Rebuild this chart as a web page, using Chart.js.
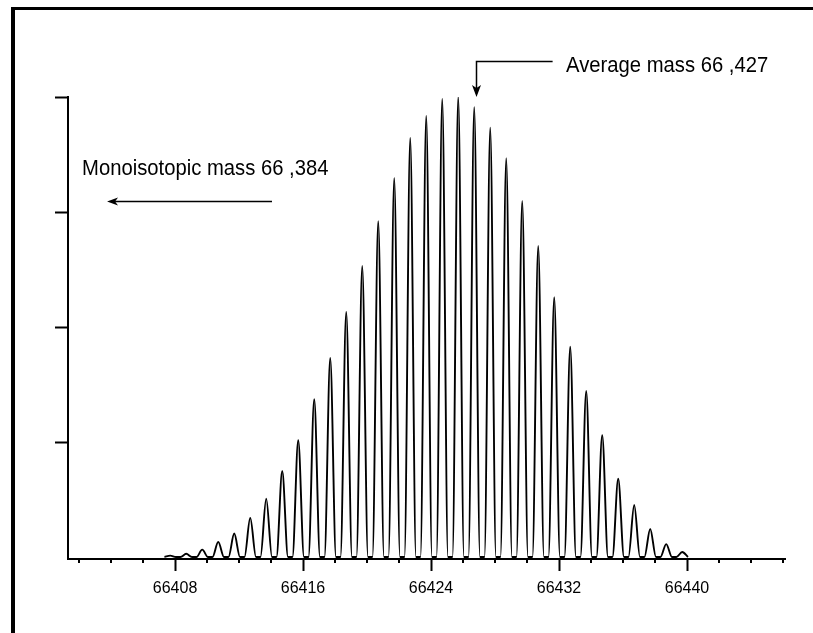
<!DOCTYPE html>
<html>
<head>
<meta charset="utf-8">
<script src="https://cdn.jsdelivr.net/npm/chart.js@4/dist/chart.umd.min.js"></script>
<style>
html,body{margin:0;padding:0;background:#fff;}
#wrap{position:relative;width:813px;height:633px;overflow:hidden;}
canvas{display:block;}
</style>
</head>
<body>
<div id="wrap"><canvas id="c" width="813" height="633"></canvas></div>
<script>
// ---- Data ----
const peakMasses = [66407.7, 66408.7, 66409.7, 66410.7, 66411.7, 66412.7, 66413.7, 66414.7,
  66415.7, 66416.7, 66417.7, 66418.7, 66419.7, 66420.7, 66421.7, 66422.7, 66423.7, 66424.7,
  66425.7, 66426.7, 66427.7, 66428.7, 66429.7, 66430.7, 66431.7, 66432.7, 66433.7, 66434.7,
  66435.7, 66436.7, 66437.7, 66438.7, 66439.7];
const peakIntensities = [0.3, 0.7, 1.6, 3.3, 5.1, 8.5, 12.7, 18.7,
  25.4, 34.3, 43.3, 53.3, 63.3, 73.0, 82.4, 91.1, 95.9, 99.6,
  100, 97.8, 93.3, 86.7, 77.4, 67.6, 56.5, 45.7, 36.1, 26.5,
  17.0, 11.3, 6.1, 2.8, 1.1];
const xMajorTicks = [66408, 66416, 66424, 66432, 66440];
const xMinorTicks = [66402, 66404, 66406, 66410, 66412, 66414, 66418, 66420, 66422,
  66426, 66428, 66430, 66434, 66436, 66438, 66442, 66444, 66446];
const yTicks = [25, 50, 75, 100];
const monoLabel = "Monoisotopic mass 66 ,384";
const avgLabel = "Average mass 66 ,427";
const averageMass = 66426.8;

// ---- Styles / layout ----
const PEAK_HALF_WIDTH = 0.36; // Da, drawing style of each isotopic peak
const TEXT_FONT = "22px 'Liberation Sans', Arial, sans-serif";
const TEXT_SCALE_X = 0.92;

// Each peak drawn as a narrow profile: base - apex - base
const profile = [];
peakMasses.forEach((m, i) => {
  profile.push({x: m - PEAK_HALF_WIDTH, y: 0});
  profile.push({x: m, y: peakIntensities[i]});
  profile.push({x: m + PEAK_HALF_WIDTH, y: 0});
});

function drawText(ctx, text, x, y) {
  ctx.save();
  ctx.font = TEXT_FONT;
  ctx.fillStyle = '#000';
  ctx.textBaseline = 'alphabetic';
  ctx.textAlign = 'left';
  ctx.translate(x, y);
  ctx.scale(TEXT_SCALE_X, 1);
  ctx.fillText(text, 0, 0);
  ctx.restore();
}

const decor = {
  id: 'decor',
  afterDraw(chart) {
    const ctx = chart.ctx;
    const xs = chart.scales.x, ys = chart.scales.y;
    const bottom = chart.chartArea.bottom;
    ctx.save();
    // frame (top and left border)
    ctx.fillStyle = '#000';
    ctx.fillRect(11, 7, 802, 3);
    ctx.fillRect(11, 7, 4, 626);
    // minor x ticks
    ctx.strokeStyle = '#000';
    ctx.lineWidth = 2;
    xMinorTicks.forEach(v => {
      const px = Math.round(xs.getPixelForValue(v));
      ctx.beginPath();
      ctx.moveTo(px, bottom);
      ctx.lineTo(px, bottom + 4);
      ctx.stroke();
    });
    // Monoisotopic annotation
    drawText(ctx, monoLabel, xs.getPixelForValue(66402.19), ys.getPixelForValue(83.0));
    const my = Math.round(ys.getPixelForValue(77.4)) + 0.5;
    const mx0 = xs.getPixelForValue(66414.06), mx1 = xs.getPixelForValue(66403.75);
    ctx.lineWidth = 1.5;
    ctx.beginPath(); ctx.moveTo(mx0, my); ctx.lineTo(mx1 + 8, my); ctx.stroke();
    ctx.beginPath();
    ctx.moveTo(mx1, my); ctx.lineTo(mx1 + 11, my - 4); ctx.lineTo(mx1 + 8, my); ctx.lineTo(mx1 + 11, my + 4);
    ctx.closePath(); ctx.fill();
    // Average annotation
    drawText(ctx, avgLabel, xs.getPixelForValue(66432.44), ys.getPixelForValue(105.4));
    const ax = Math.round(xs.getPixelForValue(averageMass)) + 0.5;
    const ay0 = Math.round(ys.getPixelForValue(107.8)) + 0.5;
    const ax0 = xs.getPixelForValue(66431.6);
    const tipY = ys.getPixelForValue(100.0);
    ctx.beginPath(); ctx.moveTo(ax0, ay0); ctx.lineTo(ax, ay0); ctx.lineTo(ax, tipY - 8); ctx.stroke();
    ctx.beginPath();
    ctx.moveTo(ax, tipY); ctx.lineTo(ax - 4.5, tipY - 12); ctx.lineTo(ax, tipY - 9); ctx.lineTo(ax + 4.5, tipY - 12);
    ctx.closePath(); ctx.fill();
    ctx.restore();
  }
};

new Chart(document.getElementById('c'), {
  type: 'scatter',
  data: {
    datasets: [{
      data: profile,
      showLine: true,
      borderColor: '#000',
      borderWidth: 1.9,
      pointRadius: 0,
      pointHoverRadius: 0,
      cubicInterpolationMode: 'monotone',
      fill: false
    }]
  },
  options: {
    responsive: false,
    animation: false,
    devicePixelRatio: 1,
    layout: {padding: {left: 0, right: 28, top: 97, bottom: 0}},
    plugins: {legend: {display: false}, tooltip: {enabled: false}},
    scales: {
      x: {
        type: 'linear',
        min: 66401.31,
        max: 66446.125,
        afterBuildTicks: s => { s.ticks = xMajorTicks.map(v => ({value: v})); },
        afterFit: s => { s.height = 74; },
        ticks: {
          color: '#000',
          font: {family: "'Liberation Sans', Arial, sans-serif", size: 16},
          padding: 8,
          maxRotation: 0,
          autoSkip: false,
          callback: v => String(v)
        },
        grid: {drawOnChartArea: false, drawTicks: true, tickLength: 12, tickColor: '#000', tickWidth: 2},
        border: {display: true, color: '#000', width: 2}
      },
      y: {
        type: 'linear',
        min: -0.43,
        max: 100,
        afterBuildTicks: s => { s.ticks = yTicks.map(v => ({value: v})); },
        afterFit: s => { s.width = 68; },
        ticks: {display: false},
        grid: {drawOnChartArea: false, drawTicks: true, tickLength: 13, tickColor: '#000', tickWidth: 2},
        border: {display: true, color: '#000', width: 2}
      }
    }
  },
  plugins: [decor]
});
</script>
</body>
</html>
